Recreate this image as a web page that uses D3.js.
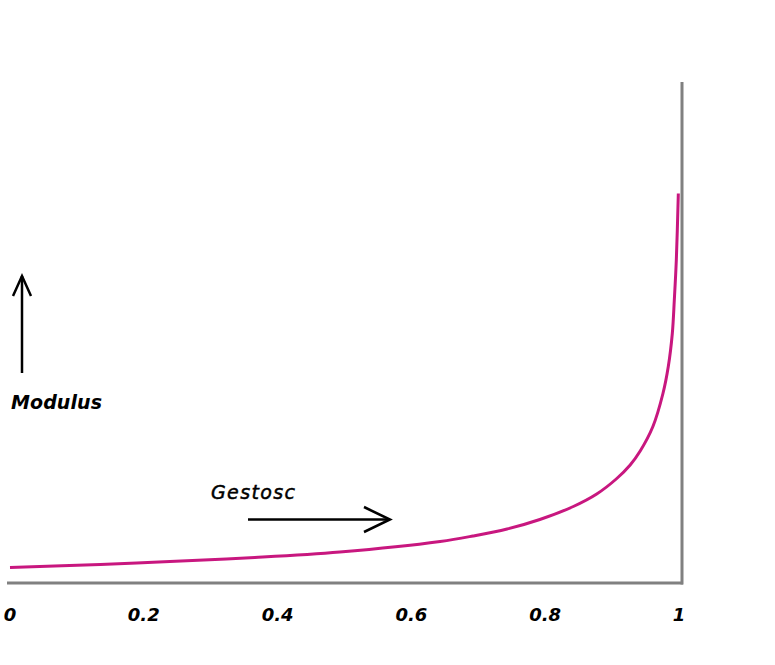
<!DOCTYPE html>
<html>
<head>
<meta charset="utf-8">
<script src="https://cdn.jsdelivr.net/npm/d3@7"></script>
<style>
html,body{margin:0;padding:0;background:#fff;}
svg{display:block;}
</style>
</head>
<body>
<svg id="chart" width="775" height="665"></svg>
<script>
// Porosity (x) vs modulus (y, relative units)
const porosity = [0, 0.135, 0.239, 0.366, 0.493, 0.643, 0.692, 0.743, 0.792, 0.842, 0.877, 0.907, 0.927, 0.942, 0.961, 0.976, 0.984, 0.990, 0.993, 0.996, 0.999];
const modulus  = [0.031, 0.037, 0.043, 0.051, 0.062, 0.083, 0.094, 0.108, 0.127, 0.153, 0.178, 0.209, 0.236, 0.264, 0.313, 0.379, 0.433, 0.499, 0.566, 0.646, 0.779];
const tickValues = [0, 0.2, 0.4, 0.6, 0.8, 1];
const tickLabels = ["0", "0.2", "0.4", "0.6", "0.8", "1"];
const xTitle = "Gestosc";
const yTitle = "Modulus";

const svg = d3.select("#chart");
const x = d3.scaleLinear().domain([0, 1]).range([10, 679]);
const y = d3.scaleLinear().domain([0, 1]).range([583, 83]);

const axisColor = "#808080";
// axes (bottom and right)
svg.append("line")
  .attr("x1", x(0) - 3).attr("x2", x(1) + 4)
  .attr("y1", y(0)).attr("y2", y(0))
  .attr("stroke", axisColor).attr("stroke-width", 3);
svg.append("line")
  .attr("x1", x(1) + 3).attr("x2", x(1) + 3)
  .attr("y1", y(1) - 1).attr("y2", y(0) + 1.5)
  .attr("stroke", axisColor).attr("stroke-width", 3);

// curve
const data = porosity.map((p, i) => ({p, m: modulus[i]}));
const line = d3.line().x(d => x(d.p)).y(d => y(d.m)).curve(d3.curveCatmullRom.alpha(0.5));
svg.append("path").datum(data)
  .attr("d", line)
  .attr("fill", "none")
  .attr("stroke", "#c8177f")
  .attr("stroke-width", 3)
  .attr("stroke-linecap", "butt");

// tick labels
const labelFont = "'DejaVu Sans', Verdana, sans-serif";
svg.selectAll("text.tick").data(tickValues).enter().append("text")
  .attr("class", "tick")
  .attr("x", d => x(d))
  .attr("y", 621)
  .attr("text-anchor", "middle")
  .attr("font-family", labelFont)
  .attr("font-weight", "bold")
  .attr("font-style", "italic")
  .attr("font-size", 18)
  .attr("fill", "#000")
  .text((d, i) => tickLabels[i]);

// Y arrow + label
const arrowG = svg.append("g").attr("stroke", "#000").attr("stroke-width", 2.5).attr("fill", "none");
arrowG.append("line").attr("x1", 22).attr("x2", 22).attr("y1", 373).attr("y2", 276);
arrowG.append("polyline").attr("points", "13,296 22,276 31,296");

svg.append("text")
  .attr("x", 11).attr("y", 409)
  .attr("font-family", labelFont)
  .attr("font-weight", "bold")
  .attr("font-style", "italic")
  .attr("font-size", 19)
  .attr("textLength", 91)
  .attr("fill", "#000")
  .text(yTitle);

// X arrow + label
arrowG.append("line").attr("x1", 248).attr("x2", 389).attr("y1", 519.5).attr("y2", 519.5);
arrowG.append("polyline").attr("points", "364,507 390,519.5 364,532");

svg.append("text")
  .attr("x", 211).attr("y", 499)
  .attr("font-family", labelFont)
  .attr("font-style", "italic")
  .attr("font-size", 19)
  .attr("textLength", 84)
  .attr("stroke", "#000")
  .attr("stroke-width", 0.5)
  .attr("fill", "#000")
  .text(xTitle);
</script>
</body>
</html>
